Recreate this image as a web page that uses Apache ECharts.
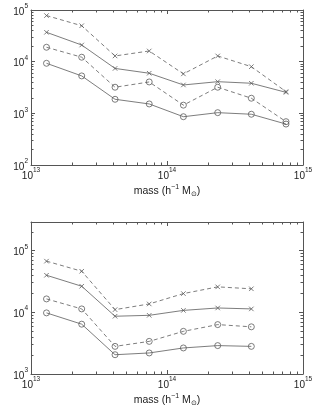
<!DOCTYPE html>
<html>
<head>
<meta charset="utf-8">
<script src="https://cdn.jsdelivr.net/npm/echarts@6/dist/echarts.min.js"></script>
<style>html,body{margin:0;padding:0;background:#fff;}#c{width:314px;height:407px;}</style>
</head>
<body>
<div id="c"></div>
<script>
// ---- data ----
const massTop = [1.3e13, 2.36e13, 4.15e13, 7.4e13, 1.32e14, 2.36e14, 4.17e14, 7.5e14];
const massBottom = [1.3e13, 2.36e13, 4.15e13, 7.4e13, 1.32e14, 2.36e14, 4.17e14];

const topDashX  = [7.8e4, 4.96e4, 1.29e4, 1.61e4, 5.8e3, 1.29e4, 8.0e3, 2.63e3];
const topSolidX = [3.7e4, 2.1e4, 7.4e3, 5.97e3, 3.54e3, 4.1e3, 3.82e3, 2.55e3];
const topDashO  = [1.9e4, 1.22e4, 3.2e3, 4.05e3, 1.44e3, 3.2e3, 1.96e3, 6.9e2];
const topSolidO = [9.3e3, 5.3e3, 1.87e3, 1.52e3, 8.6e2, 1.03e3, 9.6e2, 6.2e2];

const botDashX  = [6.7e4, 4.6e4, 1.1e4, 1.36e4, 2.0e4, 2.57e4, 2.39e4];
const botSolidX = [3.96e4, 2.63e4, 8.6e3, 8.9e3, 1.07e4, 1.17e4, 1.13e4];
const botDashO  = [1.64e4, 1.13e4, 2.8e3, 3.37e3, 4.9e3, 6.3e3, 5.8e3];
const botSolidO = [9.75e3, 6.4e3, 2.05e3, 2.19e3, 2.64e3, 2.88e3, 2.8e3];

const xMajor = [1e13, 1e14, 1e15];
const yMajorTop = [1e2, 1e3, 1e4, 1e5];
const yMajorBottom = [1e3, 1e4, 1e5];
const xTitle = 'mass (h{s|\u22121} M{sub|\u2299})';
const yTitle = 'number of clusters';

// ---- helpers ----
function minorBetween(lo, hi) {
  const out = [];
  for (let e = Math.floor(Math.log10(lo)); e <= Math.ceil(Math.log10(hi)); e++) {
    for (let k = 2; k <= 9; k++) {
      const v = k * Math.pow(10, e);
      if (v > lo * 1.0001 && v < hi * 0.9999) out.push(v);
    }
  }
  return out;
}
const FONT = 'Liberation Sans, Arial, sans-serif';
const TXT = '#222';
const AX = '#555';
const LINE = '#5c5c5c';
const rich = {
  b: {fontSize: 10, color: TXT, fontFamily: FONT, verticalAlign: 'bottom', lineHeight: 14},
  s: {fontSize: 6.5, color: TXT, fontFamily: FONT, verticalAlign: 'top', lineHeight: 14}
};
function powFmt(v) {
  const e = Math.round(Math.log10(v));
  if (Math.abs(Math.pow(10, e) - v) / v > 1e-4) return '';
  return '{b|10}{s|' + e + '}';
}

const grids = [
  {left: 31, top: 10, width: 272, height: 155},
  {left: 31, top: 222, width: 272, height: 152}
];
const xRange = [1e13, 1.00001e15];
const yRanges = [[1e2, 1.00001e5], [1e3, 2.88e5]];
const yMajors = [yMajorTop, yMajorBottom];

const xAxes = [], yAxes = [];
const xMain = [], yMain = [];
grids.forEach((g, gi) => {
  const xr = xRange, yr = yRanges[gi];
  const xmin = minorBetween(xr[0], xr[1]);
  const ymin = minorBetween(yr[0], yr[1]);
  ['bottom', 'top'].forEach(pos => {
    xMain[gi] = xMain[gi] === undefined ? xAxes.length : xMain[gi];
    xAxes.push({
      type: 'log', logBase: 10, gridIndex: gi, position: pos, min: xr[0], max: xr[1],
      axisLine: {show: true, lineStyle: {color: AX, width: 1}},
      axisTick: {show: true, inside: true, length: 4, customValues: xMajor, lineStyle: {color: AX, width: 1}},
      axisLabel: {show: pos === 'bottom', customValues: xMajor, formatter: powFmt, rich: rich, margin: 2,
        fontSize: 10, fontFamily: FONT, color: TXT,
        showMinLabel: true, showMaxLabel: true, hideOverlap: false},
      splitLine: {show: false},
      name: pos === 'bottom' ? xTitle : '', nameLocation: 'middle', nameGap: 19,
      nameTextStyle: {fontSize: 10.5, color: TXT, fontFamily: FONT, rich: {
        s: {fontSize: 7, color: TXT, fontFamily: FONT, verticalAlign: 'top', lineHeight: 14},
        sub: {fontSize: 7, color: TXT, fontFamily: FONT, verticalAlign: 'bottom', lineHeight: 10}
      }}
    });
    xAxes.push({
      type: 'log', logBase: 10, gridIndex: gi, position: pos, min: xr[0], max: xr[1],
      axisLine: {show: false},
      axisTick: {show: true, inside: true, length: 2.5, customValues: xmin, lineStyle: {color: AX, width: 1}},
      axisLabel: {show: false}, splitLine: {show: false}
    });
  });
  ['left', 'right'].forEach(pos => {
    yMain[gi] = yMain[gi] === undefined ? yAxes.length : yMain[gi];
    yAxes.push({
      type: 'log', logBase: 10, gridIndex: gi, position: pos, min: yr[0], max: yr[1],
      axisLine: {show: true, lineStyle: {color: AX, width: 1}},
      axisTick: {show: true, inside: true, length: 4, customValues: yMajors[gi], lineStyle: {color: AX, width: 1}},
      axisLabel: {show: pos === 'left', customValues: yMajors[gi], formatter: powFmt, rich: rich, margin: 3,
        fontSize: 10, fontFamily: FONT, color: TXT,
        showMinLabel: true, showMaxLabel: true, hideOverlap: false},
      splitLine: {show: false},
      name: pos === 'left' ? yTitle : '', nameLocation: 'middle', nameGap: 24,
      nameTextStyle: {fontSize: 10.5, color: TXT, fontFamily: FONT}
    });
    yAxes.push({
      type: 'log', logBase: 10, gridIndex: gi, position: pos, min: yr[0], max: yr[1],
      axisLine: {show: false},
      axisTick: {show: true, inside: true, length: 2.5, customValues: ymin, lineStyle: {color: AX, width: 1}},
      axisLabel: {show: false}, splitLine: {show: false}
    });
  });
});

const XSYM = 'path://M0,0L10,10M10,0L0,10';
function mk(gi, xs, ys, dashed, sym) {
  return {
    type: 'line', xAxisIndex: xMain[gi], yAxisIndex: yMain[gi],
    data: xs.map((x, i) => [x, ys[i]]),
    symbol: sym === 'x' ? XSYM : 'circle',
    symbolSize: sym === 'x' ? 4.5 : 6,
    showAllSymbol: true,
    lineStyle: {color: LINE, width: 0.8, type: dashed ? [4, 3] : 'solid'},
    itemStyle: {color: 'rgba(0,0,0,0)', borderColor: LINE, borderWidth: 0.8},
    emphasis: {disabled: true},
    silent: true
  };
}
const series = [
  mk(0, massTop, topDashX, true, 'x'),
  mk(0, massTop, topSolidX, false, 'x'),
  mk(0, massTop, topDashO, true, 'o'),
  mk(0, massTop, topSolidO, false, 'o'),
  mk(1, massBottom, botDashX, true, 'x'),
  mk(1, massBottom, botSolidX, false, 'x'),
  mk(1, massBottom, botDashO, true, 'o'),
  mk(1, massBottom, botSolidO, false, 'o')
];

const chart = echarts.init(document.getElementById('c'), null, {renderer: 'canvas'});
chart.setOption({
  animation: false,
  backgroundColor: '#fff',
  grid: grids.map(g => Object.assign({containLabel: false, outerBoundsMode: 'none'}, g)),
  xAxis: xAxes,
  yAxis: yAxes,
  series: series
});
</script>
</body>
</html>
